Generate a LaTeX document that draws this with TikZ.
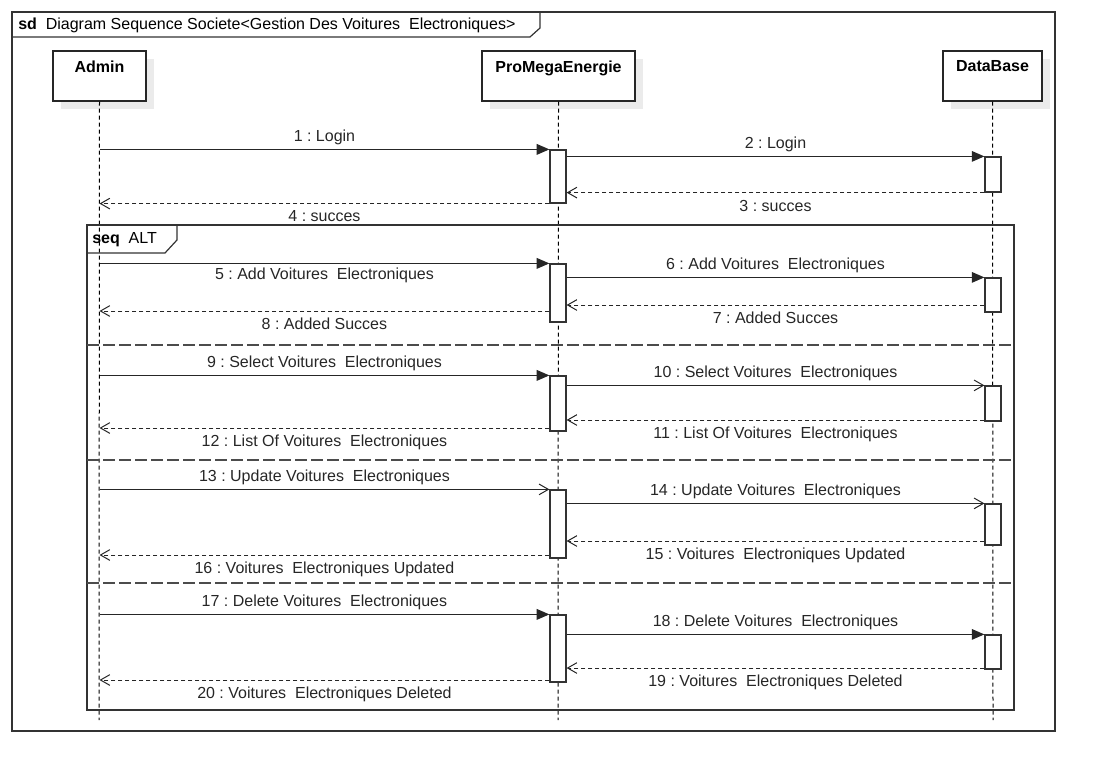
\documentclass[tikz,border=0pt]{standalone}
\usepackage{fontspec}
\setmainfont{Liberation Sans}
\usetikzlibrary{arrows.meta,shadows}
\frenchspacing
\begin{document}
\begin{tikzpicture}[x=0.75pt,y=-0.75pt,
  font=\fontsize{12}{14}\selectfont,
  line join=miter,
  frame/.style={draw=black!80, line width=0.9pt},
  lbox/.style={draw=black!85, fill=white, line width=0.9pt, minimum height=37.5pt, inner sep=0pt,
    general shadow={fill=black!8, shadow xshift=6pt, shadow yshift=-6pt}},
  ltitle/.style={font=\fontsize{12}{14}\selectfont\bfseries, anchor=north, inner sep=0pt, yshift=-7.5pt},
  act/.style={draw=black!80, fill=white, line width=0.9pt, minimum width=12pt, inner sep=0pt},
  life/.style={draw=black, line width=0.75pt, dash pattern=on 3pt off 2.25pt},
  sync/.style={draw=black!85, line width=0.9pt, -{Triangle[length=9.5pt,width=8pt]}},
  syncopen/.style={draw=black!85, line width=0.9pt, -{Straight Barb[length=7pt,width=8pt,line width=0.75pt]}},
  ret/.style={draw=black!85, line width=0.75pt, dash pattern=on 3pt off 2.25pt, -{Straight Barb[length=7pt,width=8pt,line width=0.75pt,sep=0pt]}},
  sep/.style={draw=black!70, line width=1pt, dash pattern=on 9pt off 3pt},
  labA/.style={midway, above=-0.5pt, text=black!85},
  labB/.style={midway, below=1.5pt, text=black!85},
  labB2/.style={midway, below=-0.5pt, text=black!85}
]
\useasboundingbox (0,0) rectangle (1105,781);

% outer frame
\draw[frame] (12,12) rectangle (1055,731);
\draw[frame] (12,37) -- (530,37) -- (540,28) -- (540,12);
\node[anchor=west, inner sep=0pt] (title) at (18,25.5) {\textbf{sd}\ \ Diagram Sequence Societe<Gestion Des Voitures\ \ Electroniques>};

% lifelines
\node[lbox, minimum width=69.75pt] (admin) at (99.5,76) {};
\node[ltitle] at (admin.north) {Admin};
\node[lbox, minimum width=114.75pt] (pro) at (558.5,76) {};
\node[ltitle] at (pro.north) {ProMegaEnergie};
\node[lbox, minimum width=74.25pt] (db) at (992.5,76) {};
\node[ltitle] at (db.north) {DataBase};

\coordinate (adminEnd) at (99,720);
\coordinate (proEnd) at (558,720);
\coordinate (dbEnd) at (993,720);
\draw[life] (admin.south) -- (adminEnd);
\draw[life] (pro.south) -- (proEnd);
\draw[life] (db.south) -- (dbEnd);

% combined fragment
\draw[frame] (87,225) rectangle (1014,710);
\draw[frame] (87,253) -- (165,253) -- (177,240) -- (177,225);
\node[anchor=west, inner sep=0pt] (seq) at (92,239.5) {\textbf{seq}\ \ ALT};
\coordinate (s1l) at (87,345); \coordinate (s1r) at (1014,345);
\coordinate (s2l) at (87,460); \coordinate (s2r) at (1014,460);
\coordinate (s3l) at (87,583); \coordinate (s3r) at (1014,583);
\draw[sep] (s1l) -- (s1r);
\draw[sep] (s2l) -- (s2r);
\draw[sep] (s3l) -- (s3r);

% activations
\node[act, minimum height=39.75pt] (p1) at (558,176.5) {};
\node[act, minimum height=26.25pt] (d1) at (993,174.5) {};
\node[act, minimum height=43.5pt]  (p2) at (558,293) {};
\node[act, minimum height=25.5pt]  (d2) at (993,295) {};
\node[act, minimum height=41.25pt] (p3) at (558,403.5) {};
\node[act, minimum height=26.25pt] (d3) at (993,403.5) {};
\node[act, minimum height=51pt]    (p4) at (558,524) {};
\node[act, minimum height=30.75pt] (d4) at (993,524.5) {};
\node[act, minimum height=50.25pt] (p5) at (558,648.5) {};
\node[act, minimum height=25.5pt]  (d5) at (993,652) {};

% messages block 0
\draw[sync] (admin.south |- p1.north) -- node[labA]{1 : Login} (p1.north west);
\draw[sync] (p1.east |- d1.north) -- node[labA]{2 : Login} (d1.north west);
\draw[ret] (d1.south west) -- node[labB, below=0.3pt]{3 : succes} (p1.east |- d1.south west);
\draw[ret] (p1.south west) -- node[labB]{4 : succes} (admin.south |- p1.south west);

% block 1
\draw[sync] (admin.south |- p2.north) -- node[labB2]{5 : Add Voitures\ \ Electroniques} (p2.north west);
\draw[sync] (p2.east |- d2.north) -- node[labA]{6 : Add Voitures\ \ Electroniques} (d2.north west);
\draw[ret] (d2.west |- 0,305) -- node[labB]{7 : Added Succes} (p2.east |- 0,305);
\draw[ret] (p2.west |- 0,311) -- node[labB]{8 : Added Succes} (admin.south |- 0,311);

% block 2
\draw[sync] (admin.south |- p3.north) -- node[labA]{9 : Select Voitures\ \ Electroniques} (p3.north west);
\draw[syncopen] (p3.east |- d3.north) -- node[labA]{10 : Select Voitures\ \ Electroniques} (d3.north west);
\draw[ret] (d3.west |- 0,420) -- node[labB]{11 : List Of Voitures\ \ Electroniques} (p3.east |- 0,420);
\draw[ret] (p3.west |- 0,428) -- node[labB]{12 : List Of Voitures\ \ Electroniques} (admin.south |- 0,428);

% block 3
\draw[syncopen] (admin.south |- p4.north) -- node[labA]{13 : Update Voitures\ \ Electroniques} (p4.north west);
\draw[syncopen] (p4.east |- d4.north) -- node[labA]{14 : Update Voitures\ \ Electroniques} (d4.north west);
\draw[ret] (d4.west |- 0,541) -- node[labB]{15 : Voitures\ \ Electroniques Updated} (p4.east |- 0,541);
\draw[ret] (p4.west |- 0,555) -- node[labB]{16 : Voitures\ \ Electroniques Updated} (admin.south |- 0,555);

% block 4
\draw[sync] (admin.south |- p5.north) -- node[labA]{17 : Delete Voitures\ \ Electroniques} (p5.north west);
\draw[sync] (p5.east |- d5.north) -- node[labA]{18 : Delete Voitures\ \ Electroniques} (d5.north west);
\draw[ret] (d5.west |- 0,668) -- node[labB]{19 : Voitures\ \ Electroniques Deleted} (p5.east |- 0,668);
\draw[ret] (p5.west |- 0,680) -- node[labB]{20 : Voitures\ \ Electroniques Deleted} (admin.south |- 0,680);
\end{tikzpicture}
\end{document}
